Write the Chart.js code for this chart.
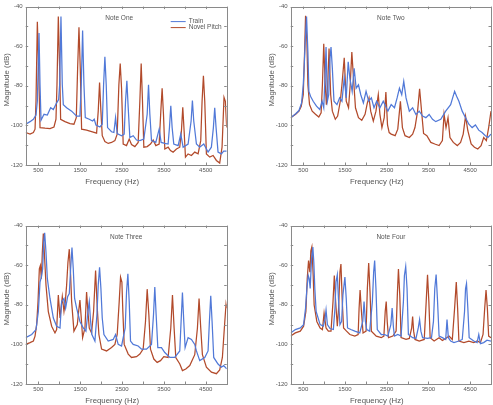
<!DOCTYPE html>
<html>
<head>
<meta charset="utf-8">
<script src="https://cdn.jsdelivr.net/npm/chart.js@4.4.1/dist/chart.umd.min.js"></script>
<style>
  html, body { margin: 0; padding: 0; background: #fff; overflow: hidden; }
  body { width: 493px; height: 405px; position: relative; }
  canvas { position: absolute; }
</style>
</head>
<body>
<canvas id="g1" width="245" height="187" style="left:0px;top:0px"></canvas>
<canvas id="g2" width="228" height="187" style="left:265px;top:0px"></canvas>
<canvas id="g3" width="245" height="187" style="left:0px;top:219px"></canvas>
<canvas id="g4" width="228" height="187" style="left:265px;top:219px"></canvas>
<script>
// nombres y ejes
const noteNames = ["Note One", "Note Two", "Note Three", "Note Four"];
const seriesNames = ["Train", "Novel Pitch"];
const xTitle = "Frequency (Hz)";
const yTitle = "Magnitude (dB)";
const xTickValues = [500, 1000, 1500, 2000, 2500, 3000, 3500, 4000, 4500, 5000];
const xLabelValues = [500, 1500, 2500, 3500, 4500];
const yTickValues = [-120, -110, -100, -90, -80, -70, -60, -50, -40];
const yLabelValues = [-120, -100, -80, -60, -40];

// Note One
const oneTrainHz = [200,303,383,446,478,518,542,566,637,717,796,860,939,987,1011,1042,1074,1098,1177,1297,1416,1495,1527,1559,1591,1623,1718,1797,1837,1877,1972,2028,2060,2091,2123,2155,2250,2306,2346,2385,2489,2552,2584,2616,2648,2687,2767,2846,2926,3021,3101,3133,3165,3204,3307,3387,3434,3522,3601,3633,3665,3697,3736,3840,3903,3959,4078,4150,4181,4213,4277,4356,4452,4555,4634,4682,4714,4746,4793,4873,4928,5000];
const oneTrainDb = [-99.4,-98.1,-96.9,-94.8,-87.8,-53.3,-79.5,-97.4,-94.4,-94.8,-91.1,-92,-88.6,-87,-79.5,-45,-79.5,-89.5,-91.1,-92.8,-95.3,-95.3,-79.5,-52.1,-79.5,-96.1,-96.9,-97.8,-96.9,-99.8,-100.8,-99.4,-79.5,-65.4,-79.5,-101.1,-103.2,-103.6,-96.1,-104.1,-105.2,-104.4,-87.8,-77.5,-91.1,-106.1,-105.2,-107.4,-107.7,-106.9,-94.4,-79.5,-94.4,-107.7,-108.6,-101.9,-108.6,-109.1,-109.4,-101.1,-90.1,-101.1,-109.4,-110.2,-104.4,-111,-109.4,-97.8,-87.5,-97.8,-109.4,-111,-109.4,-113.5,-111,-101.1,-91.1,-101.1,-113.5,-114.4,-113,-113];
const oneNovelHz = [200,303,383,423,446,478,510,542,661,780,875,923,947,979,1011,1034,1138,1257,1352,1408,1440,1472,1503,1535,1654,1773,1893,1932,1964,1996,2028,2091,2171,2250,2330,2385,2425,2457,2489,2528,2608,2672,2727,2807,2886,2926,2958,2989,3021,3101,3180,3244,3307,3387,3427,3458,3490,3522,3601,3657,3720,3800,3879,3919,3951,3983,4015,4078,4158,4237,4317,4380,4412,4444,4476,4515,4595,4675,4754,4833,4889,4936,4968,5000];
const oneNovelDb = [-103.6,-104.4,-103.6,-101.9,-87.8,-47.6,-71.2,-101.1,-101.4,-101.6,-100.8,-96.9,-79.5,-45,-71.2,-96.9,-98.1,-99.1,-99.4,-96.1,-71.2,-50.5,-71.2,-101.9,-102.4,-103.1,-103.9,-92.8,-78.3,-92.8,-105.2,-108.1,-109.1,-108.6,-107.7,-104.4,-79.5,-68.7,-81.2,-109.4,-110.2,-106.9,-109.7,-110.7,-108.6,-87.8,-68.7,-87.8,-111,-110.7,-109.4,-107.4,-110.2,-109.4,-92.8,-81.2,-94.4,-111.9,-111,-112.7,-113.5,-111.9,-111,-102.7,-90.8,-102.7,-116,-114.4,-115.2,-113.5,-114.4,-107.7,-87.8,-74.9,-87.8,-114.4,-116,-115.2,-117.7,-119,-111,-85.8,-87.8,-101.1];

// Note Two
const twoTrainHz = [200,319,398,461,501,525,548,580,612,636,675,739,818,897,952,992,1024,1047,1079,1111,1142,1166,1198,1237,1309,1372,1428,1483,1531,1578,1618,1673,1721,1768,1824,1879,1942,2006,2069,2133,2196,2259,2338,2418,2529,2608,2687,2750,2806,2861,2909,2964,3043,3122,3201,3281,3360,3439,3518,3598,3677,3796,3914,4033,4081,4128,4176,4231,4310,4390,4469,4548,4627,4706,4786,4865,4928,5000];
const twoTrainDb = [-96.1,-94.1,-92.5,-88.6,-79.5,-69.5,-57.9,-45,-62.9,-82.8,-85.3,-87.8,-90.3,-92,-87.8,-91.1,-74.5,-60.4,-87.8,-84.5,-66.2,-60.4,-71.2,-87.8,-89.5,-86.1,-87.8,-76.2,-86.1,-67.9,-76.2,-82.8,-71.2,-81.2,-79.5,-84.5,-88.6,-82.8,-87.8,-86.1,-91.1,-87.8,-91.1,-87.8,-92.8,-89.5,-91.1,-86.1,-81.2,-84.5,-77.8,-86.1,-92.8,-91.1,-94.5,-92.8,-95.3,-96.1,-94.5,-96.9,-98.1,-96.9,-92.8,-89.5,-86.1,-82.8,-85.3,-87.8,-92.8,-96.1,-99.4,-101.1,-99.8,-102.4,-103.6,-105.2,-106.1,-104.4];
const twoNovelHz = [200,319,398,453,501,533,556,588,612,651,715,794,873,929,960,992,1024,1055,1087,1119,1158,1198,1269,1325,1388,1428,1483,1531,1586,1626,1665,1705,1752,1824,1903,1982,2037,2077,2117,2180,2243,2299,2338,2386,2441,2481,2520,2560,2608,2703,2766,2829,2877,2940,3043,3122,3178,3241,3289,3336,3384,3463,3558,3653,3756,3835,3875,3922,3970,4017,4097,4192,4271,4334,4390,4445,4524,4603,4683,4762,4825,4889,4944,5000];
const twoNovelDb = [-96.1,-94.4,-92.8,-90.3,-84.5,-62.9,-44.6,-57.9,-79.5,-89.5,-92.8,-94.4,-95.8,-93.6,-79.5,-58.8,-77.8,-89.5,-79.5,-61.2,-84.5,-92.8,-96.9,-95.3,-87.8,-79.5,-65.9,-87.8,-91.1,-79.5,-62.9,-76.2,-91.1,-96.1,-97.4,-94.4,-88.6,-86.1,-92.8,-97.8,-92.8,-84.5,-94.4,-101.1,-96.1,-83.2,-99.8,-103.6,-104.4,-105.2,-101.9,-87.8,-101.1,-105.2,-106.1,-104.4,-101.1,-92.8,-81.5,-92.8,-104.1,-105.2,-108.6,-109.4,-110.2,-107.7,-94.4,-101.1,-96.1,-106.1,-108.6,-110.2,-108.6,-104.4,-95.3,-102.7,-109.4,-111,-111.9,-110.2,-106.1,-107.7,-101.1,-92.8];

// Note Three
const threeTrainHz = [200,343,446,502,542,574,605,629,653,685,717,780,860,939,1019,1058,1114,1154,1201,1241,1273,1305,1336,1368,1416,1495,1575,1638,1686,1718,1750,1781,1853,1901,1932,1964,1996,2028,2068,2171,2290,2346,2409,2489,2576,2608,2640,2672,2703,2767,2886,2966,3085,3204,3252,3283,3315,3355,3442,3522,3641,3760,3879,3911,3943,3975,4007,4078,4158,4237,4277,4356,4476,4555,4587,4619,4651,4690,4793,4873,4928,5000];
const threeTrainDb = [-96.6,-95,-92.5,-83.4,-68.5,-66,-61.9,-48.6,-43.6,-53.6,-66.8,-76.8,-86.7,-90.8,-91.7,-78.4,-76.8,-81.7,-75.9,-74.3,-61.9,-51.1,-61.9,-76.8,-81.7,-88.4,-91.7,-93.3,-83.4,-78.4,-88.4,-95,-98.3,-85,-70.1,-61,-71.8,-86.7,-95,-98.3,-97.5,-95,-100,-100.8,-91.7,-73.5,-64.3,-78.4,-98.3,-100,-100.8,-102.4,-102.4,-100,-85,-71,-85,-101.6,-101.6,-104.1,-106.6,-106.6,-103.3,-88.4,-73.8,-88.4,-101.6,-96.6,-97.5,-100,-103.3,-108.2,-106.6,-103.3,-88.4,-75.4,-88.4,-106.6,-109.9,-111.5,-110.7,-112.4];
const threeNovelHz = [200,303,383,423,462,494,526,550,574,597,621,653,685,740,820,899,939,979,1019,1074,1114,1146,1177,1209,1241,1273,1297,1352,1432,1464,1495,1527,1559,1615,1654,1686,1718,1773,1821,1869,1909,1948,2012,2131,2250,2330,2385,2433,2465,2497,2520,2552,2648,2727,2846,2926,3005,3061,3101,3141,3180,3260,3339,3419,3498,3601,3665,3705,3744,3784,3880,3943,4023,4118,4237,4301,4340,4380,4420,4515,4635,4754,4833,4897,4944,4984,5000];
const threeNovelDb = [-100,-99.1,-98.3,-95.8,-90,-78.4,-61.9,-60.2,-66.8,-53.6,-44,-56.9,-70.1,-83.4,-90.8,-94.2,-92.5,-75.1,-86.7,-75.9,-83.4,-78.4,-70.1,-58.5,-51.9,-65.2,-78.4,-93.3,-90,-83.4,-77.6,-86.7,-96.6,-91.7,-73.5,-83.4,-91.7,-94.2,-83.4,-62.7,-81.7,-95,-102.4,-103.3,-101.6,-100,-95,-78.4,-66,-68.5,-83.4,-100,-104.9,-106.6,-106.2,-104.9,-102.4,-88.4,-72.1,-85,-102.4,-107.4,-109.1,-108.2,-106.2,-106.6,-91.7,-75.1,-91.7,-106.6,-109.9,-113.2,-112.4,-110.7,-105.2,-91.7,-76.8,-91.7,-105.2,-111.5,-114,-114.8,-112.9,-106.6,-91.7,-79.7,-81.7];

// Note Four
const fourTrainHz = [200,311,430,509,556,588,620,644,667,699,731,754,778,810,905,984,1024,1047,1079,1142,1222,1261,1285,1317,1348,1380,1420,1451,1499,1531,1562,1641,1736,1855,1927,1958,1990,2022,2093,2157,2188,2212,2243,2275,2370,2449,2528,2600,2631,2663,2687,2766,2845,2901,2925,2956,2988,3020,3122,3202,3257,3289,3320,3360,3479,3574,3621,3653,3685,3716,3756,3835,3914,3946,3978,4033,4113,4231,4311,4366,4390,4413,4445,4477,4588,4667,4707,4746,4825,4905,5000];
const fourTrainDb = [-94.2,-92.5,-91.7,-90,-81.7,-71.8,-65.2,-66.8,-71.8,-56.9,-50.8,-58.5,-71.8,-83.4,-90,-90.8,-86.7,-82.6,-90,-92,-92.5,-81.7,-68.5,-64.8,-78.4,-90,-88.4,-75.1,-66,-76.8,-91.7,-92.5,-93.3,-94.2,-88.4,-78.4,-88.4,-92.5,-93.3,-78.4,-63.5,-57.7,-71.8,-92.5,-95,-95,-95.8,-90,-81.7,-91.7,-95.8,-95,-95.8,-78.4,-65.2,-60.7,-71.8,-95,-96.6,-97,-91.7,-87.5,-93.3,-96.6,-97,-96.6,-88.4,-71.8,-64.7,-76.8,-95.8,-96.6,-97.5,-87.5,-96.6,-98.3,-99.1,-98.3,-97.5,-83.4,-71.8,-69.3,-81.7,-96.6,-98.3,-99.1,-95,-99.6,-99.1,-97.9,-98.3];
const fourNovelHz = [200,311,430,509,564,596,628,660,683,707,739,762,826,905,960,1000,1047,1103,1166,1214,1245,1277,1317,1348,1380,1404,1436,1467,1538,1618,1736,1816,1839,1863,1895,1934,2006,2037,2069,2101,2133,2251,2370,2433,2465,2489,2513,2544,2647,2726,2758,2782,2814,2845,2964,3043,3099,3122,3146,3178,3281,3400,3447,3479,3511,3542,3637,3756,3835,3914,3994,4073,4128,4168,4200,4231,4350,4469,4588,4667,4746,4809,4849,4881,4913,4944,5000];
const fourNovelDb = [-95.8,-94.2,-93.3,-90.8,-83.4,-66.8,-57.7,-63.5,-52.8,-50.8,-65.2,-80.1,-88.4,-91.7,-92.5,-84.2,-91.7,-93.3,-93.3,-78.4,-65.2,-78.4,-90.8,-81.7,-63.5,-59.4,-78.4,-91.7,-93.3,-95,-95.8,-95,-81.7,-72.6,-83.4,-94.2,-93.3,-71.8,-58.9,-73.5,-93.3,-95.8,-96.6,-95.8,-83.4,-78.4,-88.4,-96.6,-95.8,-93.3,-73.5,-61.9,-75.1,-96.6,-97.5,-97,-91.7,-85.9,-93.3,-97.5,-98.3,-97.5,-78.4,-64.8,-78.4,-96.6,-98.3,-96.6,-98,-97,-95.8,-97.5,-81.7,-68.5,-81.7,-98.3,-99.1,-98.3,-99.1,-98.3,-99.1,-95,-81.7,-72.6,-81.7,-95.8,-96.6];

const colorTrain = "#5179d8";
const colorNovel = "#b24a2b";
const axisColor = "#8a8a8a";
const textColor = "#555555";
const fontFam = "'Liberation Sans', Arial, sans-serif";

function puntos(hz, db) {
  return hz.map(function (f, i) { return { x: f, y: db[i] }; });
}

// caja, marcas hacia adentro, titulos y leyenda
const cajaPlugin = {
  id: "caja",
  afterDraw: function (chart, args, opts) {
    const ctx = chart.ctx;
    const a = chart.chartArea;
    const xs = chart.scales.x;
    const ys = chart.scales.y;
    const len = 2.5;
    const cx = (a.left + a.right) / 2;
    const cy = (a.top + a.bottom) / 2;
    ctx.save();
    ctx.strokeStyle = axisColor;
    ctx.lineWidth = 1;
    ctx.strokeRect(Math.round(a.left) + 0.5, Math.round(a.top) + 0.5, Math.round(a.right - a.left), Math.round(a.bottom - a.top));
    ctx.beginPath();
    xTickValues.forEach(function (v) {
      const px = Math.round(xs.getPixelForValue(v)) + 0.5;
      ctx.moveTo(px, a.bottom); ctx.lineTo(px, a.bottom - len);
      ctx.moveTo(px, a.top); ctx.lineTo(px, a.top + len);
    });
    yTickValues.forEach(function (v) {
      const py = Math.round(ys.getPixelForValue(v)) + 0.5;
      ctx.moveTo(a.left, py); ctx.lineTo(a.left + len, py);
      ctx.moveTo(a.right, py); ctx.lineTo(a.right - len, py);
    });
    ctx.stroke();

    ctx.fillStyle = textColor;
    ctx.textAlign = "center";
    ctx.textBaseline = "middle";
    // titulos de los ejes, algo corridos como en el original
    ctx.font = "7.8px " + fontFam;
    ctx.fillText(xTitle, cx - 14, a.bottom + 16.5);
    ctx.save();
    ctx.translate(6.5, cy - 6);
    ctx.rotate(-Math.PI / 2);
    ctx.fillText(yTitle, 0, 0);
    ctx.restore();

    ctx.font = "6.5px " + fontFam;
    ctx.fillText(opts.nota, cx - (opts.leyenda ? 7 : 0), a.top + 11.5);

    if (opts.leyenda) {
      ctx.textAlign = "left";
      chart.data.datasets.forEach(function (ds, i) {
        const y = a.top + 15 + i * 6;
        ctx.strokeStyle = ds.borderColor;
        ctx.beginPath();
        ctx.moveTo(a.right - 56, y); ctx.lineTo(a.right - 41, y);
        ctx.stroke();
        ctx.fillStyle = textColor;
        ctx.fillText(ds.label, a.right - 38, y);
      });
    }
    ctx.restore();
  },
};

function grafico(id, nota, trainHz, trainDb, novelHz, novelDb, leyenda) {
  const config = {
    type: "line",
    data: {
      datasets: [
        {
          label: seriesNames[0],
          data: puntos(trainHz, trainDb),
          borderColor: colorTrain,
          borderWidth: 1.25,
          pointRadius: 0,
          tension: 0,
        },
        {
          label: seriesNames[1],
          data: puntos(novelHz, novelDb),
          borderColor: colorNovel,
          borderWidth: 1.25,
          pointRadius: 0,
          tension: 0,
        },
      ],
    },
    options: {
      responsive: false,
      animation: false,
      events: [],
      layout: { padding: { top: 4, right: id === "g2" || id === "g4" ? 0.7 : 18.3, bottom: 0, left: 0 } },
      plugins: {
        legend: { display: false },
        tooltip: { enabled: false },
        caja: { nota: nota, leyenda: leyenda },
      },
      scales: {
        x: {
          type: "linear",
          min: 200,
          max: 5000,
          grid: { display: false, drawTicks: false },
          border: { display: false },
          afterBuildTicks: function (scale) {
            scale.ticks = xTickValues.map(function (v) { return { value: v }; });
          },
          afterFit: function (scale) { scale.height = 22; },
          ticks: {
            autoSkip: false,
            maxRotation: 0,
            padding: 2,
            color: textColor,
            font: { family: fontFam, size: 6 },
            callback: function (v) { return xLabelValues.indexOf(v) >= 0 ? String(v) : ""; },
          },
        },
        y: {
          min: -120,
          max: -40,
          grid: { display: false, drawTicks: false },
          border: { display: false },
          afterBuildTicks: function (scale) {
            scale.ticks = yTickValues.map(function (v) { return { value: v }; });
          },
          afterFit: function (scale) { scale.width = 25.7; },
          ticks: {
            autoSkip: false,
            padding: 3,
            color: textColor,
            font: { family: fontFam, size: 6 },
            callback: function (v) { return yLabelValues.indexOf(v) >= 0 ? String(v) : ""; },
          },
        },
      },
    },
    plugins: [cajaPlugin],
  };
  return new Chart(document.getElementById(id), config);
}

grafico("g1", noteNames[0], oneTrainHz, oneTrainDb, oneNovelHz, oneNovelDb, true);
grafico("g2", noteNames[1], twoTrainHz, twoTrainDb, twoNovelHz, twoNovelDb, false);
grafico("g3", noteNames[2], threeTrainHz, threeTrainDb, threeNovelHz, threeNovelDb, false);
grafico("g4", noteNames[3], fourTrainHz, fourTrainDb, fourNovelHz, fourNovelDb, false);
</script>
</body>
</html>
